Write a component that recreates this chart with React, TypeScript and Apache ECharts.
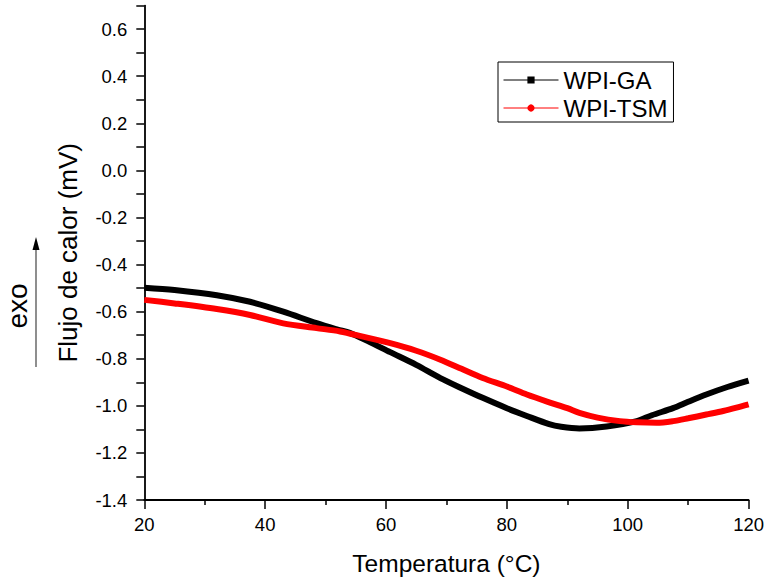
import React, { useEffect, useRef } from "react";
import * as echarts from "echarts";

const gaTemp = [20, 25, 32, 37.5, 43, 48.5, 52, 54, 57, 60.7, 65, 69, 72.5, 76, 80, 83.3, 87, 89, 92, 96.5, 101.5, 104, 107.5, 110, 113, 116.5, 120];
const gaFlux = [-0.498, -0.508, -0.53, -0.558, -0.6, -0.649, -0.676, -0.69, -0.725, -0.772, -0.826, -0.882, -0.925, -0.966, -1.01, -1.043, -1.078, -1.089, -1.096, -1.088, -1.065, -1.04, -1.01, -0.983, -0.952, -0.92, -0.893];

const tsmTemp = [20, 25, 32, 37.5, 43, 48.5, 52.4, 56, 60.7, 65, 69, 72.5, 76, 80, 83.3, 87, 90, 92, 95, 98.7, 101.5, 104.8, 107.5, 110, 113, 115.8, 118, 120];
const tsmFlux = [-0.55, -0.565, -0.589, -0.614, -0.65, -0.67, -0.684, -0.705, -0.734, -0.766, -0.804, -0.843, -0.882, -0.918, -0.952, -0.985, -1.01, -1.03, -1.05, -1.065, -1.07, -1.072, -1.065, -1.053, -1.037, -1.022, -1.008, -0.994];

const seriesNames = ["WPI-GA", "WPI-TSM"];
const xTitle = "Temperatura (°C)";
const yTitle = "Flujo de calor (mV)";

const FONT = "Liberation Sans, Arial, sans-serif";

export default function App() {
  const ref = useRef<HTMLDivElement>(null);
  useEffect(() => {
    if (!ref.current) return;
    const chart = echarts.init(ref.current, undefined, { renderer: "svg" });
    const zip = (a: number[], b: number[]) => a.map((v, i) => [v, b[i]]);
    chart.setOption({
      animation: false,
      backgroundColor: "#ffffff",
      textStyle: { fontFamily: FONT },
      grid: { left: 144.3, right: 18.3, top: 5.6, bottom: 78.3, containLabel: false },
      xAxis: {
        type: "value",
        min: 20,
        max: 120,
        interval: 20,
        name: xTitle,
        nameLocation: "middle",
        nameGap: 51,
        nameTextStyle: { fontSize: 24.5, color: "#000", fontFamily: FONT },
        axisLine: { show: true, onZero: false, lineStyle: { color: "#000", width: 1.8 } },
        axisTick: { show: true, inside: false, length: 9, lineStyle: { color: "#000", width: 1.5 } },
        minorTick: { show: true, splitNumber: 2, length: 5, lineStyle: { color: "#000", width: 1.5 } },
        axisLabel: { fontSize: 18.5, color: "#000", margin: 15, fontFamily: FONT },
        splitLine: { show: false },
      },
      yAxis: {
        type: "value",
        min: -1.4,
        max: 0.7,
        interval: 0.1,
        name: yTitle,
        nameLocation: "middle",
        nameGap: 63,
        nameTextStyle: { fontSize: 26, color: "#000", fontFamily: FONT },
        axisLine: { show: true, onZero: false, lineStyle: { color: "#000", width: 1.8 } },
        axisTick: { show: true, inside: false, length: 8, lineStyle: { color: "#000", width: 1.5 } },
        axisLabel: {
          fontSize: 18.5,
          color: "#000",
          margin: 17,
          fontFamily: FONT,
          formatter: (v: number) => {
            const k = Math.round(v * 10);
            if (k % 2 !== 0 || k > 6) return "";
            return (k / 10).toFixed(1);
          },
        },
        splitLine: { show: false },
      },
      legend: {
        orient: "vertical",
        left: 498,
        top: 62,
        padding: [6, 6, 2, 5],
        itemGap: 4,
        itemWidth: 55,
        itemHeight: 9,
        borderColor: "#000",
        borderWidth: 1,
        borderRadius: 0,
        backgroundColor: "#fff",
        textStyle: { fontSize: 24, color: "#000", fontFamily: FONT },
        lineStyle: { width: 1 },
        data: seriesNames,
      },
      series: [
        {
          name: seriesNames[0],
          type: "line",
          data: zip(gaTemp, gaFlux),
          smooth: 0.3,
          symbol: "rect",
          showSymbol: false,
          color: "#000000",
          lineStyle: { color: "#000000", width: 6 },
          itemStyle: { color: "#000000" },
        },
        {
          name: seriesNames[1],
          type: "line",
          data: zip(tsmTemp, tsmFlux),
          smooth: 0.3,
          symbol: "circle",
          showSymbol: false,
          color: "#ff0000",
          lineStyle: { color: "#ff0000", width: 6 },
          itemStyle: { color: "#ff0000" },
        },
      ],
      graphic: [
        {
          type: "text",
          x: 17,
          y: 306,
          rotation: Math.PI / 2,
          style: { text: "exo", fontSize: 28, fill: "#000", fontFamily: FONT, align: "center", verticalAlign: "middle" },
        },
        {
          type: "line",
          shape: { x1: 36, y1: 367, x2: 36, y2: 246 },
          style: { stroke: "#444", lineWidth: 1.2 },
        },
        {
          type: "polygon",
          shape: { points: [[36, 237], [32.5, 250], [39.5, 250]] },
          style: { fill: "#000" },
        },
      ],
    });
    return () => chart.dispose();
  }, []);
  return <div ref={ref} style={{ position: "fixed", left: 0, top: 0, width: 767, height: 581 }} />;
}
